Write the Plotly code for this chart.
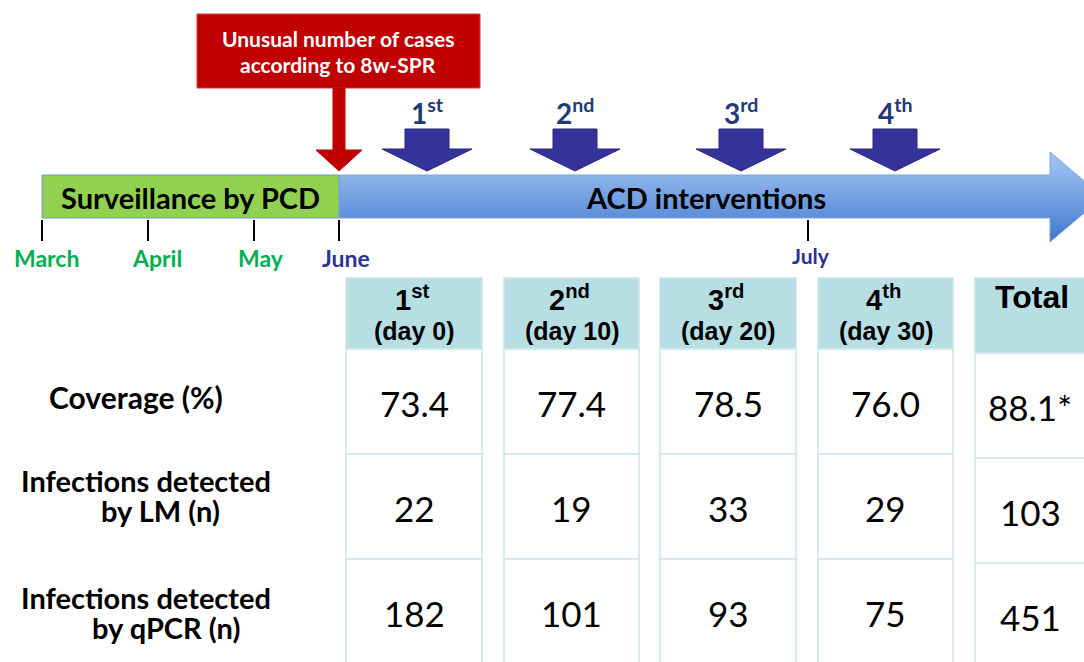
import plotly.graph_objects as go

# ---------------- data ----------------
round_nums = ["1", "2", "3", "4"]
round_suffix = ["st", "nd", "rd", "th"]
round_days = [0, 10, 20, 30]
coverage = ["73.4", "77.4", "78.5", "76.0"]
coverage_total = "88.1*"
lm_counts = [22, 19, 33, 29]
lm_total = 103
qpcr_counts = [182, 101, 93, 75]
qpcr_total = 451
months = ["March", "April", "May", "June", "July"]
month_colors = ["#00B050", "#00B050", "#00B050", "#2E3192", "#2E3192"]
row_labels = [["Coverage (%)"], ["Infections detected", "by LM (n)"], ["Infections detected", "by qPCR (n)"]]
alert_text = ["Unusual number of cases", "according to 8w-SPR"]
phase_labels = ["Surveillance by PCD", "ACD interventions"]

# ---------------- layout geometry (pixels) ----------------
W, H = 1084, 662
month_x = [42, 148, 254, 339, 808]
month_lbl_x = [46, 157, 261, 346, 811]
arrow_x = [427, 575, 741, 895]
col_l = [346, 504, 660, 818, 975]
col_r = [482, 639, 796, 953, 1095]

LATO = "Lato"
ARIAL = "Liberation Sans"

fig = go.Figure()
shapes = []
ann = []

def A(x, y, text, size, color="black", family=LATO, xanchor="center"):
    ann.append(dict(x=x, y=y, xref="x", yref="y", text=text, showarrow=False,
                    font=dict(size=size, color=color, family=family),
                    xanchor=xanchor, yanchor="middle"))

# blue ACD arrow (gradient via fillgradient)
bx = [339, 1050, 1050, 1103, 1050, 1050, 339, 339]
by = [175, 175, 152, 197, 242, 218, 218, 175]
fig.add_trace(go.Scatter(
    x=bx, y=by, mode="lines", fill="toself",
    line=dict(color="#7FA7DC", width=1),
    fillgradient=dict(type="vertical", start=152, stop=242,
                      colorscale=[[0, "#A3C4F2"], [0.26, "#8DB4EC"], [0.74, "#5C8ED8"], [1, "#3F74C2"]]),
    hoverinfo="skip", showlegend=False))

# green surveillance bar
shapes.append(dict(type="rect", xref="x", yref="y", x0=42, x1=339, y0=175, y1=218,
                   fillcolor="#92D050", line=dict(color="#6F9FD8", width=1)))

# month ticks
for mx in month_x:
    shapes.append(dict(type="line", xref="x", yref="y", x0=mx, x1=mx, y0=220, y1=241,
                       line=dict(color="black", width=2)))
for i, m in enumerate(months):
    A(month_lbl_x[i], 258 if i < 4 else 255, "<b>%s</b>" % m, 23 if i < 4 else 21, month_colors[i])

A(190, 197, "<b>%s</b>" % phase_labels[0], 29)
A(706, 197, "<b>%s</b>" % phase_labels[1], 29)

# red alert box + arrow
shapes.append(dict(type="rect", xref="x", yref="y", x0=197, x1=480, y0=14, y1=88,
                   fillcolor="#C00000", line=dict(color="#D23A3A", width=1)))
shapes.append(dict(type="path", xref="x", yref="y",
                   path="M 333,88 L 345,88 L 345,150 L 362,150 L 339,171 L 316,150 L 333,150 Z",
                   fillcolor="#C00000", line=dict(color="#C00000", width=1)))
A(338, 38, "<b>%s</b>" % alert_text[0], 21, "white")
A(338, 64, "<b>%s</b>" % alert_text[1], 21, "white")

# navy round arrows
for i, cx in enumerate(arrow_x):
    p = ("M {a},129 L {b},129 L {b},149 L {c},149 L {t},171 L {d},149 L {a},149 Z"
         .format(a=cx - 22, b=cx + 22, c=cx + 45, d=cx - 45, t=cx))
    shapes.append(dict(type="path", xref="x", yref="y", path=p,
                       fillcolor="#333399", line=dict(color="#27277A", width=1)))
    A(cx, 111, "<b>%s<sup>%s</sup></b>" % (round_nums[i], round_suffix[i]), 28, "#1F3A78")

# table
TEAL_HDR = "#B7DFE3"
TEAL_LINE = "#CBE6EA"
hdr_top = 278
row_edges = [349, 454, 559, 680]
row_edges_tot = [353, 458, 563, 680]
for j in range(5):
    edges = row_edges if j < 4 else row_edges_tot
    shapes.append(dict(type="rect", xref="x", yref="y", x0=col_l[j], x1=col_r[j], y0=hdr_top, y1=edges[0],
                       fillcolor=TEAL_HDR, line=dict(color=TEAL_LINE, width=1.5)))
    for r in range(3):
        shapes.append(dict(type="rect", xref="x", yref="y", x0=col_l[j], x1=col_r[j],
                           y0=edges[r], y1=edges[r + 1],
                           fillcolor="white", line=dict(color=TEAL_LINE, width=1.5)))

col_cx = [(col_l[j] + col_r[j]) / 2 for j in range(4)]
for j in range(4):
    A(col_cx[j] - 2, 298, "<b>%s<sup>%s</sup></b>" % (round_nums[j], round_suffix[j]), 29, "black", ARIAL)
    A(col_cx[j], 331, "<b>(day %d)</b>" % round_days[j], 25, "black", ARIAL)
    A(col_cx[j], 403, coverage[j], 35)
    A(col_cx[j], 508, str(lm_counts[j]), 35)
    A(col_cx[j], 613, str(qpcr_counts[j]), 35)
A(1032, 297, "<b>Total</b>", 32, "black", ARIAL)
A(1030, 407, coverage_total, 35)
A(1030, 512, str(lm_total), 35)
A(1030, 617, str(qpcr_total), 35)

# row labels
A(136, 397, "<b>%s</b>" % row_labels[0][0], 30)
A(146, 480, "<b>%s</b>" % row_labels[1][0], 29)
A(160, 510, "<b>%s</b>" % row_labels[1][1], 29)
A(146, 597, "<b>%s</b>" % row_labels[2][0], 29)
A(166, 627, "<b>%s</b>" % row_labels[2][1], 29)

fig.update_layout(
    width=W, height=H, margin=dict(l=0, r=0, t=0, b=0),
    paper_bgcolor="white", plot_bgcolor="white",
    xaxis=dict(range=[0, W], visible=False, fixedrange=True),
    yaxis=dict(range=[H, 0], visible=False, fixedrange=True),
    shapes=shapes, annotations=ann, showlegend=False,
)
fig.write_html("out.html", config={"displayModeBar": False},
               post_script="document.body.style.margin='0';document.body.style.overflow='hidden';")
